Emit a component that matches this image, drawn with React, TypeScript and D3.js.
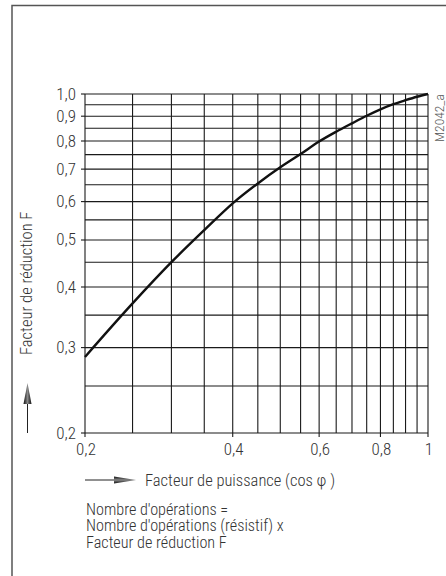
import React, { useEffect, useRef } from 'react';
import * as d3 from 'd3';

// curve values (cos phi -> reduction factor F)
const powerFactor = [0.2, 0.25, 0.3, 0.35, 0.4, 0.45, 0.5, 0.55, 0.6, 0.65, 0.7, 0.75, 0.8, 0.85, 0.9, 0.95, 1.0];
const reduction = [0.287, 0.37, 0.45, 0.524, 0.595, 0.654, 0.706, 0.752, 0.798, 0.836, 0.87, 0.902, 0.93, 0.953, 0.971, 0.987, 1.0];

// grid every 0.05 on both axes
const xGrid = [0.2, 0.25, 0.3, 0.35, 0.4, 0.45, 0.5, 0.55, 0.6, 0.65, 0.7, 0.75, 0.8, 0.85, 0.9, 0.95, 1.0];
const yGrid = [0.2, 0.25, 0.3, 0.35, 0.4, 0.45, 0.5, 0.55, 0.6, 0.65, 0.7, 0.75, 0.8, 0.85, 0.9, 0.95, 1.0];

const xTicks = [0.2, 0.4, 0.6, 0.8, 1];
const xTickLabels = ['0,2', '0,4', '0,6', '0,8', '1'];
const yTicks = [0.2, 0.3, 0.4, 0.5, 0.6, 0.7, 0.8, 0.9, 1.0];
const yTickLabels = ['0,2', '0,3', '0,4', '0,5', '0,6', '0,7', '0,8', '0,9', '1,0'];

const xTitle = 'Facteur de puissance (cos \u03c6 )';
const yTitle = 'Facteur de réduction  F';
const noteLines = ["Nombre d'opérations =", "Nombre d'opérations (résistif) x", 'Facteur de réduction  F'];
const figId = 'M2042_a';

const FONT = '"Liberation Sans Narrow", "Arial Narrow", "Roboto Condensed", sans-serif';

const App = () => {
  const ref = useRef<SVGSVGElement>(null);

  useEffect(() => {
    const svg = d3.select(ref.current);
    svg.selectAll('*').remove();

    const margins = { top: 94, left: 85, right: 18, bottom: 143 };
    const width = 446, height = 576;

    const xScale = d3.scaleLog().domain([0.2, 1]).range([margins.left, width - margins.right]);
    const yScale = d3.scaleLog().domain([0.2, 1]).range([height - margins.bottom, margins.top]);

    // arrow head gradients
    const defs = svg.append('defs');
    const gradH = defs.append('linearGradient').attr('id', 'headH').attr('x1', 0).attr('y1', 0).attr('x2', 0).attr('y2', 1);
    gradH.append('stop').attr('offset', '0%').attr('stop-color', '#111');
    gradH.append('stop').attr('offset', '50%').attr('stop-color', '#888');
    gradH.append('stop').attr('offset', '100%').attr('stop-color', '#111');
    const gradV = defs.append('linearGradient').attr('id', 'headV').attr('x1', 0).attr('y1', 0).attr('x2', 1).attr('y2', 0);
    gradV.append('stop').attr('offset', '0%').attr('stop-color', '#111');
    gradV.append('stop').attr('offset', '50%').attr('stop-color', '#888');
    gradV.append('stop').attr('offset', '100%').attr('stop-color', '#111');

    // frame
    svg.append('path')
      .attr('d', `M12,${height + 2} L12,5.5 L${width + 2},5.5`)
      .attr('fill', 'none')
      .attr('stroke', '#555')
      .attr('stroke-width', 1.5);

    const grid = svg.append('g').attr('stroke', '#1a1a1a').attr('stroke-width', 1.1);
    grid.selectAll('line.vx')
      .data(xGrid)
      .enter()
      .append('line')
        .attr('x1', d => xScale(d))
        .attr('x2', d => xScale(d))
        .attr('y1', yScale(1))
        .attr('y2', yScale(0.2));
    grid.selectAll('line.hy')
      .data(yGrid)
      .enter()
      .append('line')
        .attr('x1', xScale(0.2))
        .attr('x2', xScale(1))
        .attr('y1', d => yScale(d))
        .attr('y2', d => yScale(d));

    // tick marks
    grid.selectAll('line.xt')
      .data(xTicks)
      .enter()
      .append('line')
        .attr('x1', d => xScale(d))
        .attr('x2', d => xScale(d))
        .attr('y1', yScale(0.2))
        .attr('y2', yScale(0.2) + 4);
    grid.selectAll('line.yt')
      .data(yTicks)
      .enter()
      .append('line')
        .attr('x1', xScale(0.2) - 4)
        .attr('x2', xScale(0.2))
        .attr('y1', d => yScale(d))
        .attr('y2', d => yScale(d));

    const text = svg.append('g').attr('font-family', FONT).attr('font-weight', 300).attr('fill', '#333');

    text.selectAll('text.xl')
      .data(xTicks)
      .enter()
      .append('text')
        .attr('x', d => xScale(d) + 1)
        .attr('y', yScale(0.2) + 22)
        .attr('text-anchor', 'middle')
        .attr('font-size', 17)
        .text((d, i) => xTickLabels[i]);

    text.selectAll('text.yl')
      .data(yTicks)
      .enter()
      .append('text')
        .attr('x', xScale(0.2) - 9)
        .attr('y', d => yScale(d) + 5.5)
        .attr('text-anchor', 'end')
        .attr('font-size', 17)
        .text((d, i) => yTickLabels[i]);

    // curve
    const line = d3.line<number>()
      .x((d, i) => xScale(powerFactor[i]))
      .y(d => yScale(d))
      .curve(d3.curveMonotoneX);
    svg.append('path')
      .datum(reduction)
      .attr('d', line)
      .attr('fill', 'none')
      .attr('stroke', '#111')
      .attr('stroke-width', 2.4);

    // x title with arrow
    const ax = 480;
    svg.append('line').attr('x1', 85).attr('x2', 118).attr('y1', ax).attr('y2', ax).attr('stroke', '#222').attr('stroke-width', 1);
    svg.append('path')
      .attr('d', `M114,${ax - 3.5} L136,${ax} L114,${ax + 3.5} Z`)
      .attr('fill', 'url(#headH)');
    text.append('text')
      .attr('x', 145)
      .attr('y', 485.5)
      .attr('font-size', 16.5)
      .text(xTitle);

    // notes
    text.selectAll('text.note')
      .data(noteLines)
      .enter()
      .append('text')
        .attr('x', 86)
        .attr('y', (d, i) => 514.5 + i * 16.8)
        .attr('font-size', 16.2)
        .text(d => d);

    // y title with arrow
    text.append('text')
      .attr('transform', 'translate(32,355) rotate(-90)')
      .attr('font-size', 16.5)
      .text(yTitle);
    svg.append('line').attr('x1', 27.5).attr('x2', 27.5).attr('y1', 433).attr('y2', 400).attr('stroke', '#222').attr('stroke-width', 1);
    svg.append('path')
      .attr('d', `M23.5,404 L27.5,383 L31.5,404 Z`)
      .attr('fill', 'url(#headV)');

    // figure id
    text.append('text')
      .attr('transform', 'translate(444,142) rotate(-90)')
      .attr('font-size', 13.5)
      .attr('fill', '#555')
      .text(figId);
  }, []);

  return (
    <svg ref={ref} width={446} height={576} style={{ position: 'absolute', left: 0, top: 0, background: '#fff' }}></svg>
  );
};

export default App;
